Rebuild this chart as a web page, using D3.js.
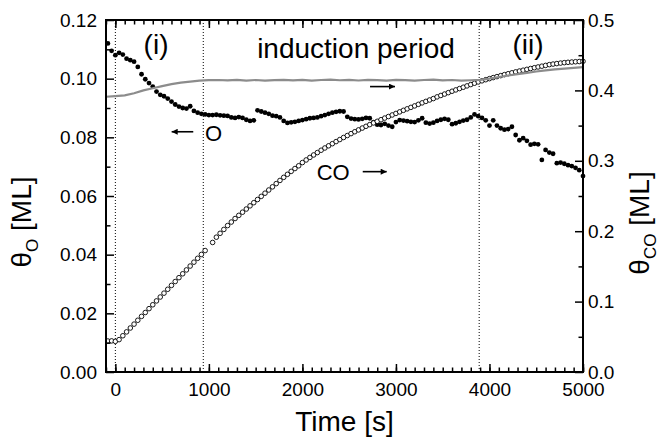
<!DOCTYPE html>
<html>
<head>
<meta charset="utf-8">
<script src="https://cdn.jsdelivr.net/npm/d3@7"></script>
<style>
body { margin: 0; background: #fff; }
text { font-family: "Liberation Sans", Arial, sans-serif; fill: #000; }
</style>
</head>
<body>
<script>
// sample times [s] shared by the O and CO series
var time = [
  -80, -40, 0, 40, 80, 120, 160, 200, 240, 280,
  320, 360, 400, 440, 480, 520, 560, 600, 640, 680,
  720, 760, 800, 840, 880, 920, 960, 1000, 1040, 1080,
  1120, 1160, 1200, 1240, 1280, 1320, 1360, 1400, 1440, 1480,
  1520, 1560, 1600, 1640, 1680, 1720, 1760, 1800, 1840, 1880,
  1920, 1960, 2000, 2040, 2080, 2120, 2160, 2200, 2240, 2280,
  2320, 2360, 2400, 2440, 2480, 2520, 2560, 2600, 2640, 2680,
  2720, 2760, 2800, 2840, 2880, 2920, 2960, 3000, 3040, 3080,
  3120, 3160, 3200, 3240, 3280, 3320, 3360, 3400, 3440, 3480,
  3520, 3560, 3600, 3640, 3680, 3720, 3760, 3800, 3840, 3880,
  3920, 3960, 4000, 4040, 4080, 4120, 4160, 4200, 4240, 4280,
  4320, 4360, 4400, 4440, 4480, 4520, 4560, 4600, 4640, 4680,
  4720, 4760, 4800, 4840, 4880, 4920, 4960, 5000
];

// theta_O [ML], left axis (filled dots)
var thetaO = [
  0.1120, 0.1095, 0.1080, 0.1088, 0.1082, 0.1068, 0.1063, 0.1058, 0.1040, 0.1015,
  0.0998, 0.0985, 0.0973, 0.0956, 0.0945, 0.0940, 0.0932, 0.0922, 0.0912, 0.0905,
  0.0900, 0.0898, 0.0906, 0.0890, 0.0884, 0.0880, 0.0878, 0.0876, 0.0876, 0.0877,
  0.0875, 0.0874, 0.0873, 0.0868, 0.0866, 0.0869, 0.0866, 0.0860, 0.0856, 0.0858,
  0.0892, 0.0888, 0.0884, 0.0880, 0.0874, 0.0872, 0.0868, 0.0856, 0.0849, 0.0851,
  0.0853, 0.0856, 0.0859, 0.0862, 0.0865, 0.0866, 0.0868, 0.0872, 0.0876, 0.0880,
  0.0884, 0.0887, 0.0889, 0.0888, 0.0870, 0.0864, 0.0862, 0.0861, 0.0863, 0.0866,
  0.0865, 0.0852, 0.0843, 0.0842, 0.0846, 0.0840, 0.0836, 0.0852, 0.0859, 0.0857,
  0.0855, 0.0853, 0.0852, 0.0858, 0.0865, 0.0850, 0.0847, 0.0850, 0.0856, 0.0860,
  0.0863, 0.0860, 0.0845, 0.0848, 0.0853, 0.0857, 0.0860, 0.0868, 0.0878, 0.0872,
  0.0866, 0.0858, 0.0840, 0.0858, 0.0840, 0.0831, 0.0826, 0.0828, 0.0836, 0.0808,
  0.0790, 0.0797, 0.0788, 0.0775, 0.0778, 0.0776, 0.0723, 0.0757, 0.0748, 0.0744,
  0.0712, 0.0714, 0.0710, 0.0705, 0.0702, 0.0696, 0.0688, 0.0668
];

// theta_CO [ML], right axis (open circles); null = no sample
var thetaCO = [
  0.0440, 0.0442, 0.0435, 0.0460, 0.0515, 0.0570, 0.0625, 0.0680, 0.0735, 0.0790,
  0.0845, 0.0900, 0.0955, 0.1010, 0.1065, 0.1120, 0.1175, 0.1230, 0.1285, 0.1340,
  0.1395, 0.1450, 0.1505, 0.1560, 0.1615, 0.1670, 0.1725, null, 0.1840, 0.1915,
  0.1970, 0.2025, 0.2080, 0.2130, 0.2180, 0.2225, 0.2270, 0.2315, 0.2360, 0.2405,
  0.2450, 0.2495, 0.2540, 0.2585, 0.2630, 0.2676, 0.2721, 0.2765, 0.2808, 0.2850,
  0.2890, 0.2929, 0.2975, 0.3012, 0.3048, 0.3083, 0.3117, 0.3150, 0.3182, 0.3213,
  0.3243, 0.3273, 0.3302, 0.3331, 0.3359, 0.3386, 0.3413, 0.3439, 0.3465, 0.3490,
  0.3514, 0.3538, 0.3561, 0.3584, 0.3607, 0.3629, 0.3651, 0.3673, 0.3695, 0.3717,
  0.3738, 0.3759, 0.3780, 0.3802, 0.3823, 0.3844, 0.3864, 0.3884, 0.3908, 0.3928,
  0.3948, 0.3968, 0.3988, 0.4007, 0.4026, 0.4045, 0.4064, 0.4083, 0.4102, 0.4120,
  0.4136, 0.4152, 0.4167, 0.4182, 0.4196, 0.4210, 0.4224, 0.4237, 0.4250, 0.4263,
  0.4275, 0.4287, 0.4299, 0.4311, 0.4322, 0.4333, 0.4344, 0.4355, 0.4366, 0.4374,
  0.4381, 0.4388, 0.4394, 0.4399, 0.4403, 0.4407, 0.4410, 0.4413
];

// grey trace, right axis
var greyTime = [
  -100, 0, 100, 200, 300, 400, 500, 600, 700, 800, 900,
  1000, 1100, 1200, 1300, 1400, 1500, 1600, 1700, 1800, 1900,
  2000, 2100, 2200, 2300, 2400, 2500, 2600, 2700, 2800, 2900,
  3000, 3100, 3200, 3300, 3400, 3500, 3600, 3700, 3800, 3900,
  4000, 4100, 4200, 4300, 4400, 4500, 4600, 4700, 4800, 4900, 5000
];
var greyCO = [
  0.3910, 0.3920, 0.3930, 0.3960, 0.4000, 0.4030, 0.4060, 0.4090, 0.4110, 0.4125, 0.4140,
  0.4145, 0.4148, 0.4142, 0.4150, 0.4140, 0.4148, 0.4138, 0.4146, 0.4150, 0.4142,
  0.4150, 0.4140, 0.4148, 0.4152, 0.4144, 0.4150, 0.4141, 0.4150, 0.4146, 0.4140,
  0.4150, 0.4145, 0.4138, 0.4148, 0.4152, 0.4142, 0.4148, 0.4140, 0.4144, 0.4150,
  0.4168, 0.4190, 0.4212, 0.4232, 0.4250, 0.4268, 0.4285, 0.4298, 0.4310, 0.4320, 0.4330
];

// period boundaries (dotted lines) [s]
var periodBounds = [0, 940, 3890];

// ticks
var xTicks = [0, 1000, 2000, 3000, 4000, 5000];
var xMinor = d3.range(-100, 5001, 100);
var yLeftTicks = [0, 0.02, 0.04, 0.06, 0.08, 0.10, 0.12];
var yLeftMinor = [0.01, 0.03, 0.05, 0.07, 0.09, 0.11];
var yRightTicks = [0, 0.1, 0.2, 0.3, 0.4, 0.5];
var yRightMinor = [0.05, 0.15, 0.25, 0.35, 0.45];

var width = 659,
    height = 437;

var svg = d3.select('body')
    .append('svg')
    .attr('width', width)
    .attr('height', height);

var x = d3.scaleLinear().domain([-100, 5000]).range([106, 583]);
var yL = d3.scaleLinear().domain([0, 0.12]).range([372, 20]);
var yR = d3.scaleLinear().domain([0, 0.5]).range([372, 20]);

var oData = time.map((t, i) => ({t: t, v: thetaO[i]}));
var coData = time.map((t, i) => ({t: t, v: thetaCO[i]})).filter(d => d.v != null);
var greyData = greyTime.map((t, i) => ({t: t, v: greyCO[i]}));

// dotted period lines
svg.append('g').selectAll('line')
    .data(periodBounds)
    .enter()
    .append('line')
    .attr('x1', d => x(d)).attr('x2', d => x(d))
    .attr('y1', yL(0.12)).attr('y2', yL(0))
    .attr('stroke', '#000')
    .attr('stroke-width', 1)
    .attr('stroke-dasharray', '1,2');

// O: filled dots
svg.append('g').selectAll('circle')
    .data(oData)
    .enter()
    .append('circle')
    .attr('cx', d => x(d.t))
    .attr('cy', d => yL(d.v))
    .attr('r', 2.4)
    .attr('fill', '#000');

// CO: open circles
svg.append('g').selectAll('circle')
    .data(coData)
    .enter()
    .append('circle')
    .attr('cx', d => x(d.t))
    .attr('cy', d => yR(d.v))
    .attr('r', 2.3)
    .attr('fill', '#fff')
    .attr('stroke', '#000')
    .attr('stroke-width', 0.9);

// grey trace
svg.append('path')
    .datum(greyData)
    .attr('fill', 'none')
    .attr('stroke', '#8c8c8c')
    .attr('stroke-width', 2.2)
    .attr('d', d3.line().x(d => x(d.t)).y(d => yR(d.v)));

// axes
function styleAxis(g, fs) {
    g.select('.domain').remove();
    g.attr('font-family', '"Liberation Sans", Arial, sans-serif').attr('font-size', fs);
    g.selectAll('line').attr('stroke', '#000').attr('stroke-width', 1.5);
    g.selectAll('text').attr('fill', '#000');
}

svg.append('g').attr('transform', 'translate(0,' + yL(0) + ')')
    .call(d3.axisBottom(x).tickValues(xMinor).tickSize(-4.5).tickFormat(''))
    .call(g => styleAxis(g, 19));
svg.append('g').attr('transform', 'translate(0,' + yL(0) + ')')
    .call(d3.axisBottom(x).tickValues(xTicks).tickSize(-8).tickPadding(11).tickFormat(d3.format('d')))
    .call(g => styleAxis(g, 19));
svg.append('g').attr('transform', 'translate(0,' + yL(0.12) + ')')
    .call(d3.axisTop(x).tickValues(xMinor).tickSize(-4.5).tickFormat(''))
    .call(g => styleAxis(g, 19));
svg.append('g').attr('transform', 'translate(0,' + yL(0.12) + ')')
    .call(d3.axisTop(x).tickValues(xTicks).tickSize(-8).tickFormat(''))
    .call(g => styleAxis(g, 19));

svg.append('g').attr('transform', 'translate(' + x(-100) + ',0)')
    .call(d3.axisLeft(yL).tickValues(yLeftMinor).tickSize(-4.5).tickFormat(''))
    .call(g => styleAxis(g, 19));
svg.append('g').attr('transform', 'translate(' + x(-100) + ',0)')
    .call(d3.axisLeft(yL).tickValues(yLeftTicks).tickSize(-8).tickPadding(9).tickFormat(d3.format('.2f')))
    .call(g => styleAxis(g, 19));

svg.append('g').attr('transform', 'translate(' + x(5000) + ',0)')
    .call(d3.axisRight(yR).tickValues(yRightMinor).tickSize(-4.5).tickFormat(''))
    .call(g => styleAxis(g, 19));
svg.append('g').attr('transform', 'translate(' + x(5000) + ',0)')
    .call(d3.axisRight(yR).tickValues(yRightTicks).tickSize(-8).tickPadding(5).tickFormat(d3.format('.1f')))
    .call(g => styleAxis(g, 19));

// frame
svg.append('rect')
    .attr('x', x(-100)).attr('y', yL(0.12))
    .attr('width', x(5000) - x(-100))
    .attr('height', yL(0) - yL(0.12))
    .attr('fill', 'none')
    .attr('stroke', '#000')
    .attr('stroke-width', 2);

// axis titles
svg.append('text')
    .attr('x', (x(-100) + x(5000)) / 2)
    .attr('y', 431)
    .attr('text-anchor', 'middle')
    .attr('font-size', 28)
    .text('Time [s]');

var lt = svg.append('text')
    .attr('transform', 'translate(31,222) rotate(-90)')
    .attr('text-anchor', 'middle')
    .attr('font-size', 28);
lt.append('tspan').text('θ');
lt.append('tspan').attr('font-size', 17).attr('dy', 7).text('O');
lt.append('tspan').attr('dy', -7).text(' [ML]');

var rt = svg.append('text')
    .attr('transform', 'translate(649,223) rotate(-90)')
    .attr('text-anchor', 'middle')
    .attr('font-size', 28);
rt.append('tspan').text('θ');
rt.append('tspan').attr('font-size', 17).attr('dy', 7).text('CO');
rt.append('tspan').attr('dy', -7).text(' [ML]');

// annotations (in data coordinates, left axis)
var notes = [
    {text: '(i)', t: 435, v: 0.1085, size: 28, anchor: 'middle'},
    {text: 'induction period', t: 2573, v: 0.1069, size: 28, anchor: 'middle'},
    {text: '(ii)', t: 4412, v: 0.1083, size: 28, anchor: 'middle'},
    {text: 'O', t: 958, v: 0.0786, size: 22, anchor: 'start'},
    {text: 'CO', t: 2153, v: 0.0655, size: 22, anchor: 'start'}
];
svg.append('g').selectAll('text')
    .data(notes)
    .enter()
    .append('text')
    .attr('x', d => x(d.t))
    .attr('y', d => yL(d.v))
    .attr('text-anchor', d => d.anchor)
    .attr('font-size', d => d.size)
    .text(d => d.text);

svg.append('defs').append('marker')
    .attr('id', 'ah')
    .attr('viewBox', '0 0 10 10')
    .attr('refX', 10).attr('refY', 5)
    .attr('markerWidth', 8).attr('markerHeight', 6)
    .attr('markerUnits', 'userSpaceOnUse')
    .attr('orient', 'auto')
    .append('path')
    .attr('d', 'M0,0L10,5L0,10z')
    .attr('fill', '#000');

var arrows = [
    {t0: 833, t1: 602, v: 0.0819},
    {t0: 2645, t1: 2901, v: 0.0683},
    {t0: 2723, t1: 2990, v: 0.0973}
];
svg.append('g').selectAll('line')
    .data(arrows)
    .enter()
    .append('line')
    .attr('x1', d => x(d.t0)).attr('x2', d => x(d.t1))
    .attr('y1', d => yL(d.v)).attr('y2', d => yL(d.v))
    .attr('stroke', '#000')
    .attr('stroke-width', 1.6)
    .attr('marker-end', 'url(#ah)');
</script>
</body>
</html>
